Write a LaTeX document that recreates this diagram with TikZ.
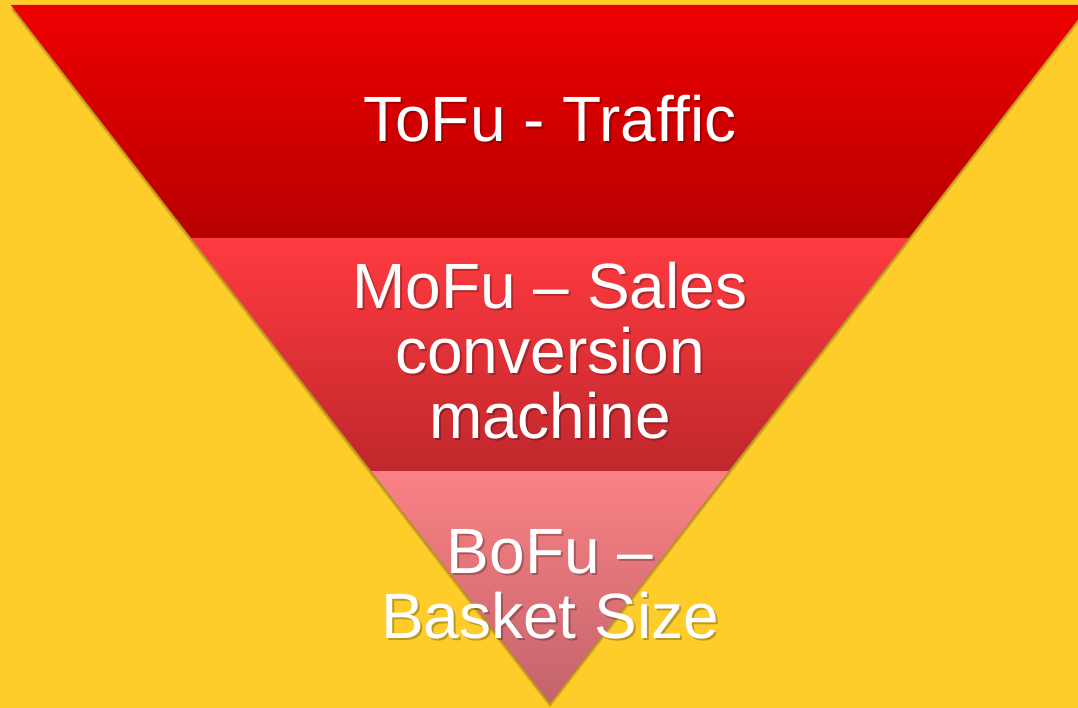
\documentclass[tikz,border=0pt]{standalone}
\usepackage{fontspec}
\setmainfont{Liberation Sans}
\usepackage{tikz}
\usetikzlibrary{positioning,calc}

\definecolor{bgyellow}{HTML}{FFCD2A}
\definecolor{tofutop}{HTML}{EE0000}
\definecolor{tofubot}{HTML}{B70000}
\definecolor{mofutop}{HTML}{FF3B40}
\definecolor{mofubot}{HTML}{BF272C}
\definecolor{bofutop}{HTML}{FA8285}
\definecolor{bofubot}{HTML}{C2646B}

\begin{document}
\begin{tikzpicture}[
  x=1pt, y=-1pt,
  bandtext/.style={font=\fontsize{64}{65}\selectfont, text=white, align=center, inner sep=0pt, anchor=base},
  textshade/.style={bandtext, text=black, text opacity=0.25},
  edgeshade/.style={fill=black!70!bgyellow, fill opacity=0.1},
]
% Background
\fill[bgyellow] (0,0) rectangle (1078,708);
\useasboundingbox (0,0) rectangle (1078,708);
\clip (0,0) rectangle (1078,708);

% Funnel corners
\coordinate (tl) at (11,5);
\coordinate (tr) at (1089,5);
\coordinate (ml) at (191.3,238);
\coordinate (mr) at (908.7,238);
\coordinate (bl) at (371.5,471);
\coordinate (br) at (728.5,471);
\coordinate (apex) at (550,703);

% Soft shadow of the funnel
\foreach \d in {1,2,3,4,5}
  \fill[edgeshade] ($(tl)+(0,\d)$) -- ($(tr)+(0,\d)$) -- ($(apex)+(0,\d)$) -- cycle;

% ToFu
\shade[top color=tofutop, bottom color=tofubot] (tl) -- (tr) -- (mr) -- (ml) -- cycle;
% MoFu
\shade[top color=mofutop, bottom color=mofubot] (ml) -- (mr) -- (br) -- (bl) -- cycle;
% BoFu
\shade[top color=bofutop, bottom color=bofubot] (bl) -- (br) -- (apex) -- cycle;

% Texts (base anchor sits on the last line)
\node[textshade] (tofushade) at (552,144) {ToFu - Traffic};
\node[bandtext] (tofu) at (550,142) {ToFu - Traffic};

\node[textshade] (mofushade) at (552,440) {MoFu -- Sales\\conversion\\machine};
\node[bandtext] (mofu) at (550,438) {MoFu -- Sales\\conversion\\machine};

\node[textshade] (bofushade) at (552,640) {BoFu --\\Basket Size};
\node[bandtext] (bofu) at (550,638) {BoFu --\\Basket Size};

\end{tikzpicture}
\end{document}
